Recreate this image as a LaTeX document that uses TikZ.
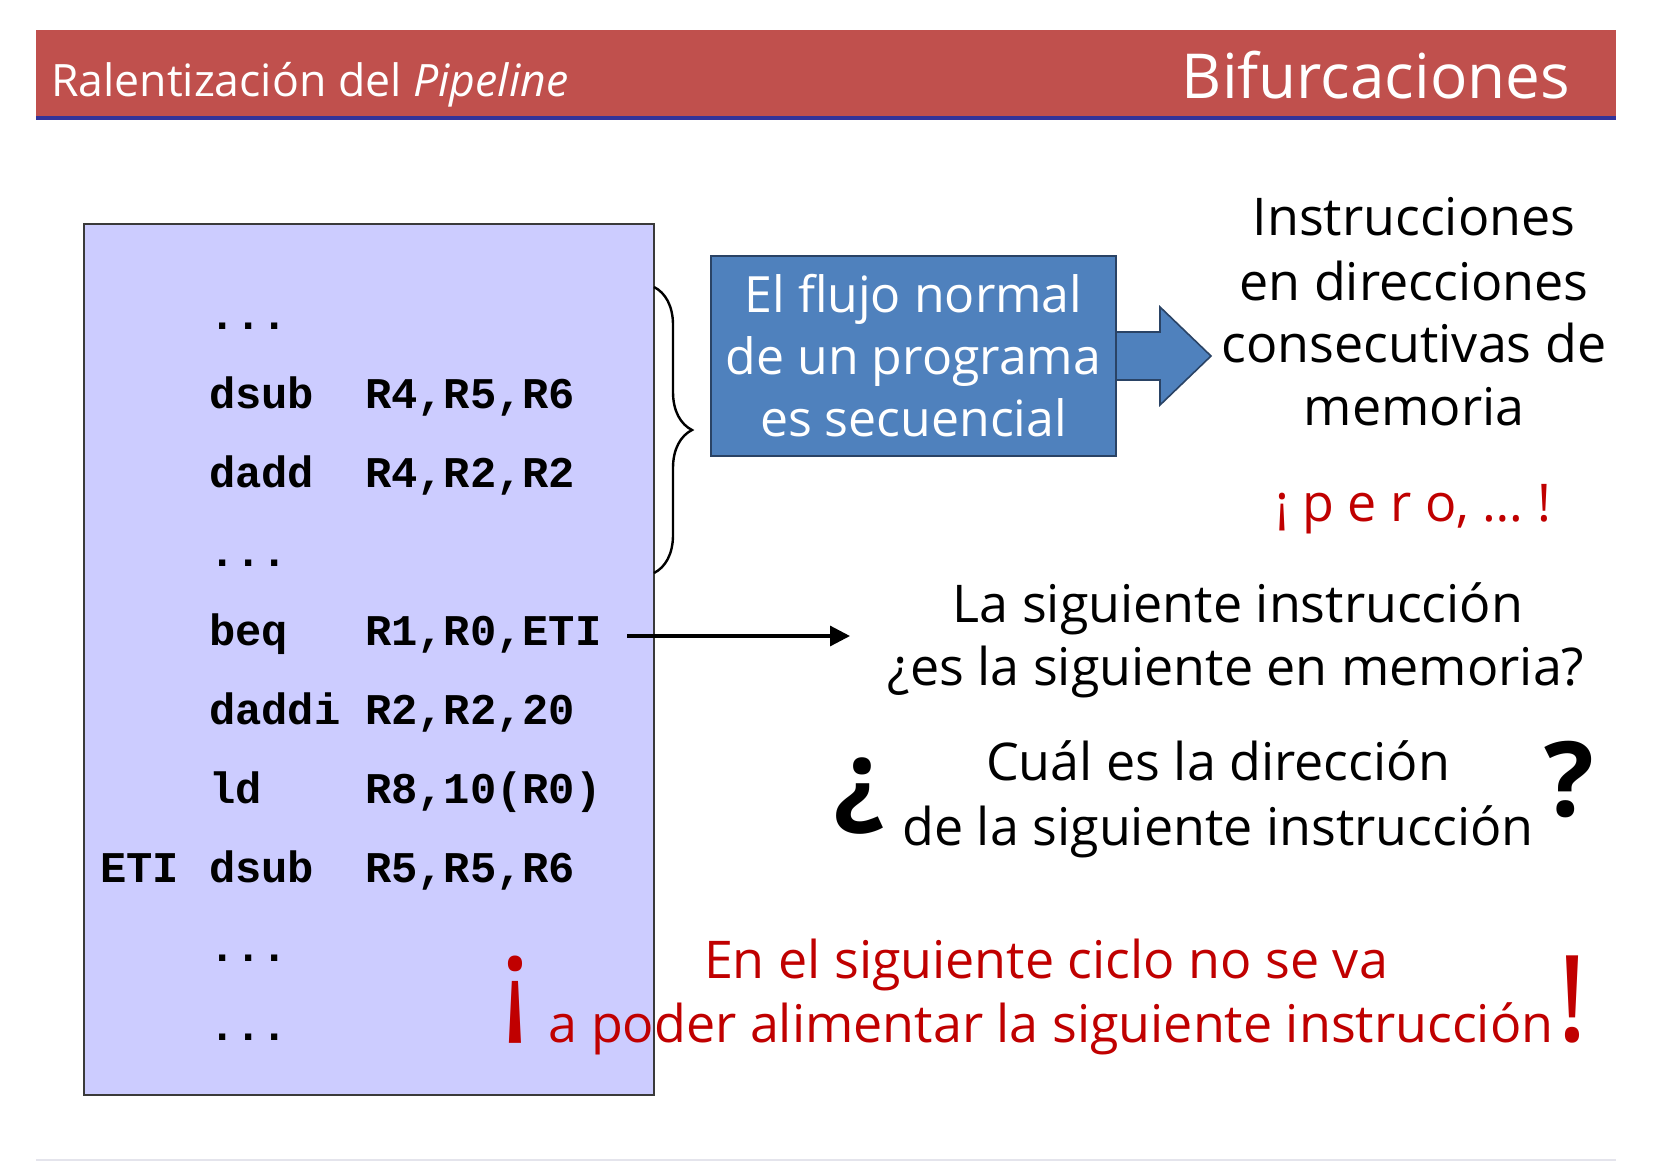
\documentclass[tikz,border=0pt]{standalone}
\usepackage{fontspec}
\setmainfont{Open Sans}
\setmonofont{Liberation Mono}
\usetikzlibrary{decorations.pathreplacing,arrows.meta}
\definecolor{barred}{HTML}{C0504D}
\definecolor{barblue}{HTML}{333399}
\definecolor{codefill}{HTML}{CCCCFF}
\definecolor{codeedge}{HTML}{3A3A3A}
\definecolor{flowblue}{HTML}{4F81BD}
\definecolor{flowedge}{HTML}{2A4365}
\definecolor{alertred}{HTML}{C00000}
\definecolor{rulegrey}{HTML}{E4E4EC}

\begin{document}
\begin{tikzpicture}[x=0.5pt,y=-0.5pt,
  every node/.style={inner sep=0pt,outer sep=0pt},
  code/.style={anchor=base west,font=\ttfamily\bfseries\fontsize{21.9}{26}\selectfont},
  body/.style={anchor=base,font=\fontsize{26}{32}\selectfont},
  alert/.style={body,text=alertred},
  bigmark/.style={anchor=center,font=\bfseries\fontsize{52}{60}\selectfont},
  bigalert/.style={anchor=center,text=alertred,font=\fontsize{60}{66}\selectfont},
]
\useasboundingbox[fill=white] (0,0) rectangle (1654,1162);

% title bar
\node[fill=barred,anchor=north west,minimum width=790pt,minimum height=43pt] (header) at (36,30) {};
\fill[barblue] (36,116) rectangle (1616,120);
\node[anchor=base west,text=white,font=\fontsize{22.3}{26}\selectfont] (hdrL) at (51,96) {Ralentización del \textit{Pipeline}};
\node[anchor=base east,text=white,font=\fontsize{31}{36}\selectfont] (hdrR) at (1570,98) {Bifurcaciones};

% faint footer rule
\draw[rulegrey,line width=1pt] (36,1160) -- (1616,1160);

% code listing
\node[fill=codefill,draw=codeedge,line width=1.1pt,anchor=north west,
      minimum width=285pt,minimum height=435.5pt] (codebox) at (84,224) {};
\node[code] (l1)  at (209,329) {...};
\node[code] (l2m) at (209,408) {dsub};  \node[code] (l2o) at (365,408) {R4,R5,R6};
\node[code] (l3m) at (209,487) {dadd};  \node[code] (l3o) at (365,487) {R4,R2,R2};
\node[code] (l4)  at (209,566) {...};
\node[code] (l5m) at (209,645) {beq};   \node[code] (l5o) at (365,645) {R1,R0,ETI};
\node[code] (l6m) at (209,724) {daddi}; \node[code] (l6o) at (365,724) {R2,R2,20};
\node[code] (l7m) at (209,803) {ld};    \node[code] (l7o) at (365,803) {R8,10(R0)};
\node[code] (l8l) at (100,882) {ETI};
\node[code] (l8m) at (209,882) {dsub};  \node[code] (l8o) at (365,882) {R5,R5,R6};
\node[code] (l9)  at (209,961) {...};
\node[code] (l10) at (209,1040) {...};

% brace over the sequential block
\draw[decorate,decoration={brace,amplitude=19pt},line width=1.2pt] (654,287) -- (654,573);

% block arrow out of the blue box
\fill[flowblue] (1116,332) -- (1160,332) -- (1160,307) -- (1211,356) -- (1160,405) -- (1160,380) -- (1116,380) -- cycle;
\draw[flowedge,line width=0.8pt] (1116,332) -- (1160,332) -- (1160,307) -- (1211,356) -- (1160,405) -- (1160,380) -- (1116,380);
\node[fill=flowblue,draw=flowedge,line width=0.8pt,minimum width=202.5pt,minimum height=100pt,
      text=white,align=center,font=\fontsize{25}{31}\selectfont] (flow) at (913.5,356)
      {El flujo normal\\de un programa\\es secuencial};

\node[body] (in1) at (1414,235) {Instrucciones};
\node[body] (in2) at (1414,300) {en direcciones};
\node[body] (in3) at (1414,362) {consecutivas de};
\node[body] (in4) at (1414,425) {memoria};
\node[alert] (pero) at (1413,521) {¡ p e r o, … !};

% branch arrow
\coordinate (bsrc) at (627,636);
\coordinate (bdst) at (850,636);
\draw[-{Triangle[length=10pt,width=10pt]},line width=1.6pt] (bsrc) -- (bdst);

\node[body] (q1) at (1238,622) {La siguiente instrucción};
\node[body] (q2) at (1236,685) {¿es la siguiente en memoria?};

\node[body] (d1) at (1218,780) {Cuál es la dirección};
\node[body] (d2) at (1218,845) {de la siguiente instrucción};
\node[bigmark] (qo) at (858,796) {¿};
\node[bigmark] (qc) at (1569,780) {?};

\node[alert] (r1) at (1046,978) {En el siguiente ciclo no se va};
\node[alert] (r2) at (1051,1042) {a poder alimentar la siguiente instrucción};
\node[bigalert] (eo) at (516,1000) {¡};
\node[bigalert] (ec) at (1573,1000) {!};
\end{tikzpicture}
\end{document}
